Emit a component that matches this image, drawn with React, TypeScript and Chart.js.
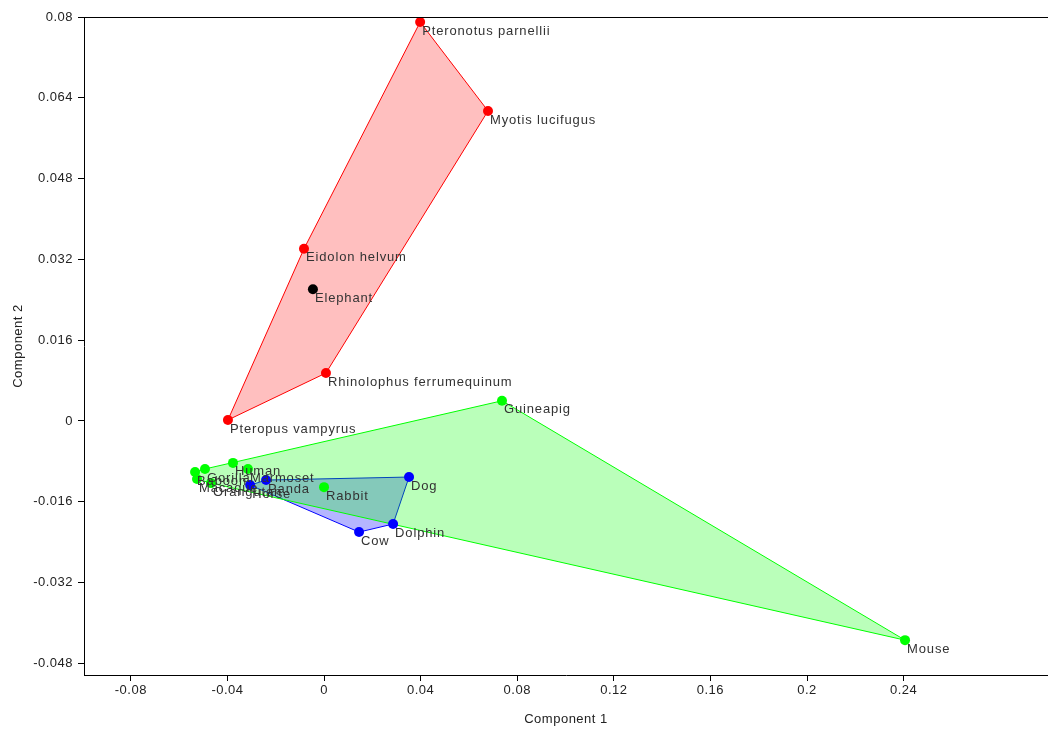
import React, { useEffect, useRef } from "react";
import { Chart, registerables } from "chart.js";

Chart.register(...registerables);

// Bats (red)
const redNames = ["Pteronotus parnellii", "Myotis lucifugus", "Eidolon helvum", "Rhinolophus ferrumequinum", "Pteropus vampyrus"];
const redX = [0.0398, 0.0679, -0.0083, 0.0008, -0.0398];
const redY = [0.0790, 0.0614, 0.0341, 0.0095, 0.0002];

// Afrotheria (black)
const blackNames = ["Elephant"];
const blackX = [-0.0046];
const blackY = [0.0261];

// Laurasiatheria (blue)
const blueNames = ["Dog", "Dolphin", "Cow", "Panda", "Horse"];
const blueX = [0.0352, 0.0286, 0.0145, -0.0240, -0.0306];
const blueY = [-0.0111, -0.0204, -0.0220, -0.0117, -0.0127];

// Euarchontoglires (green)
const greenNames = ["Baboon", "Gorilla", "Macaque", "Orangutan", "Human", "Marmoset", "Rabbit", "Guineapig", "Mouse"];
const greenX = [-0.0534, -0.0493, -0.0526, -0.0468, -0.0377, -0.0315, 0.0000, 0.0737, 0.2406];
const greenY = [-0.0101, -0.0095, -0.0115, -0.0123, -0.0083, -0.0095, -0.0131, 0.0040, -0.0434];

const xTicks = [-0.08, -0.04, 0, 0.04, 0.08, 0.12, 0.16, 0.2, 0.24];
const yTicks = [-0.048, -0.032, -0.016, 0, 0.016, 0.032, 0.048, 0.064, 0.08];

type P = { x: number; y: number };

function toPoints(xs: number[], ys: number[]): P[] {
  return xs.map((x, i) => ({ x, y: ys[i] }));
}

function hull(pts: P[]): P[] {
  const p = [...pts].sort((a, b) => (a.x === b.x ? a.y - b.y : a.x - b.x));
  const cross = (o: P, a: P, b: P) => (a.x - o.x) * (b.y - o.y) - (a.y - o.y) * (b.x - o.x);
  const lower: P[] = [];
  for (const q of p) {
    while (lower.length >= 2 && cross(lower[lower.length - 2], lower[lower.length - 1], q) <= 0) lower.pop();
    lower.push(q);
  }
  const upper: P[] = [];
  for (let i = p.length - 1; i >= 0; i--) {
    const q = p[i];
    while (upper.length >= 2 && cross(upper[upper.length - 2], upper[upper.length - 1], q) <= 0) upper.pop();
    upper.push(q);
  }
  const h = lower.slice(0, -1).concat(upper.slice(0, -1));
  return [...h, h[0]];
}

const FONT = '"Liberation Sans", Arial, sans-serif';

const spacingPlugin = {
  id: "spacing",
  beforeInit(chart: any) {
    chart.ctx.letterSpacing = "0.5px";
  },
  beforeDraw(chart: any) {
    chart.ctx.letterSpacing = "0.5px";
  },
};

const labelPlugin = {
  id: "pointLabels",
  afterDatasetsDraw(chart: any) {
    const ctx = chart.ctx;
    ctx.save();
    ctx.font = `13px ${FONT}`;
    (ctx as any).letterSpacing = "0.85px";
    ctx.fillStyle = "#333333";
    ctx.textAlign = "left";
    ctx.textBaseline = "middle";
    chart.data.datasets.forEach((ds: any, di: number) => {
      if (!ds.names) return;
      const meta = chart.getDatasetMeta(di);
      meta.data.forEach((el: any, i: number) => {
        ctx.fillText(ds.names[i], el.x + 2, el.y + 9);
      });
    });
    ctx.restore();
  },
};

const topLinePlugin = {
  id: "topLine",
  afterDraw(chart: any) {
    const { ctx, chartArea } = chart;
    ctx.save();
    ctx.strokeStyle = "#000";
    ctx.lineWidth = 1;
    ctx.beginPath();
    ctx.moveTo(chartArea.left, chartArea.top + 0.5);
    ctx.lineTo(chartArea.right, chartArea.top + 0.5);
    ctx.stroke();
    ctx.restore();
  },
};

export default function App() {
  const ref = useRef<HTMLCanvasElement>(null);
  useEffect(() => {
    if (!ref.current) return;
    const red = toPoints(redX, redY);
    const blue = toPoints(blueX, blueY);
    const green = toPoints(greenX, greenY);
    const black = toPoints(blackX, blackY);
    const hullDs = (pts: P[], line: string, fillC: string, order: number) => ({
      data: hull(pts),
      showLine: true,
      fill: "shape",
      borderColor: line,
      borderWidth: 1,
      backgroundColor: fillC,
      pointRadius: 0,
      tension: 0,
      order,
    });
    const ptDs = (pts: P[], names: string[], color: string) => ({
      data: pts,
      names,
      pointRadius: 5,
      pointBorderWidth: 0,
      pointBackgroundColor: color,
      backgroundColor: color,
      borderColor: color,
      showLine: false,
      order: 0,
    });
    const fmt = (v: number) => String(Number(v.toFixed(4)));
    const chart = new Chart(ref.current, {
      type: "scatter",
      data: {
        datasets: [
          ptDs(red, redNames, "#ff0000"),
          ptDs(black, blackNames, "#000000"),
          ptDs(blue, blueNames, "#0000ff"),
          ptDs(green, greenNames, "#00ff00"),
          hullDs(red, "#ff0000", "rgba(255,0,0,0.25)", 2),
          hullDs(green, "#00ff00", "rgba(0,255,0,0.27)", 2),
          hullDs(blue, "#0000ff", "rgba(0,0,255,0.29)", 3),
        ] as any,
      },
      options: {
        animation: false,
        responsive: false,
        devicePixelRatio: 1,
        layout: { autoPadding: false, padding: { top: 17, right: 0, left: 0, bottom: 0 } },
        plugins: { legend: { display: false }, tooltip: { enabled: false } },
        scales: {
          x: {
            type: "linear",
            min: -0.0994,
            max: 0.2998,
            afterBuildTicks: (s: any) => {
              s.ticks = xTicks.map((v) => ({ value: v }));
            },
            afterFit: (s: any) => {
              s.height = 54;
              s.paddingRight = 0;
              s.paddingLeft = 0;
            },
            ticks: {
              callback: (v: any) => fmt(Number(v)),
              font: { size: 13, family: FONT },
              color: "#222",
              padding: 2,
              maxRotation: 0,
              autoSkip: false,
            },
            grid: { drawOnChartArea: false, drawTicks: true, tickLength: 6, color: "#000" },
            border: { display: true, color: "#000", width: 1 },
            title: { display: true, text: "Component 1", font: { size: 13, family: FONT }, color: "#222", padding: { top: 4, bottom: 2 } },
          },
          y: {
            type: "linear",
            min: -0.0503,
            max: 0.08,
            afterBuildTicks: (s: any) => {
              s.ticks = yTicks.map((v) => ({ value: v }));
            },
            afterFit: (s: any) => {
              s.width = 84;
            },
            ticks: {
              callback: (v: any) => fmt(Number(v)),
              font: { size: 13, family: FONT },
              color: "#222",
              padding: 5,
              autoSkip: false,
            },
            grid: { drawOnChartArea: false, drawTicks: true, tickLength: 6, color: "#000" },
            border: { display: true, color: "#000", width: 1 },
            title: { display: true, text: "Component 2", font: { size: 13, family: FONT }, color: "#222", padding: { top: 11, bottom: 4 } },
          },
        },
      },
      plugins: [spacingPlugin, labelPlugin, topLinePlugin],
    } as any);
    return () => chart.destroy();
  }, []);
  return (
    <div style={{ position: "absolute", left: 0, top: 0, width: 1048, height: 729, background: "#fff" }}>
      <canvas ref={ref} width={1048} height={729} style={{ width: 1048, height: 729, display: "block" }} />
    </div>
  );
}
